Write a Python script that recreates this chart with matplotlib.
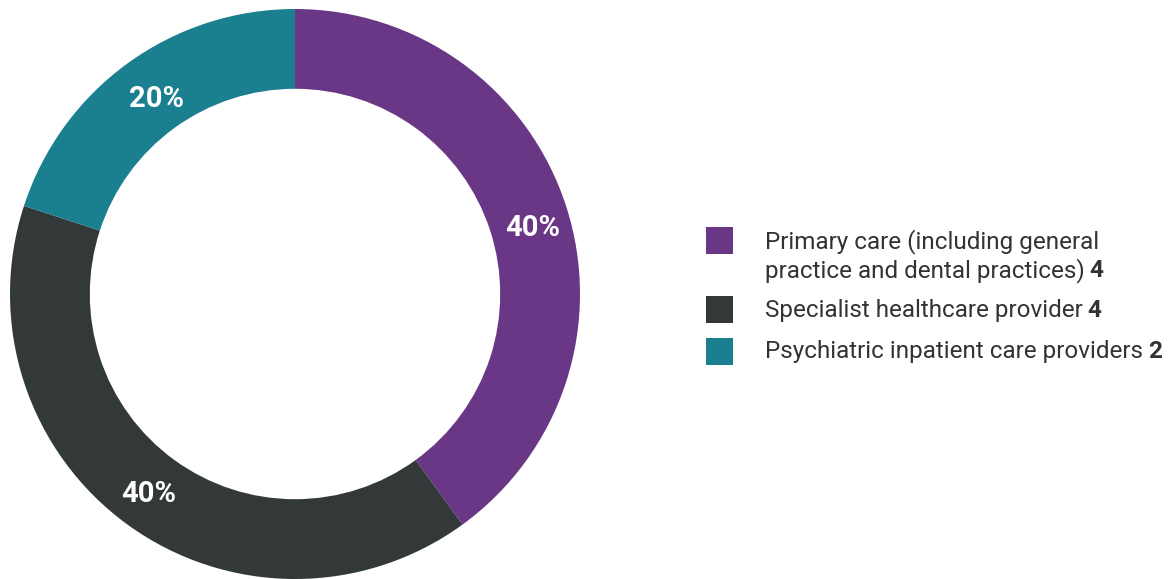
import numpy as np
import matplotlib.pyplot as plt
from matplotlib.patches import Rectangle

plt.rcParams['font.family'] = ['Roboto', 'DejaVu Sans']

categories = [['Primary care (including general', 'practice and dental practices)'],
              ['Specialist healthcare provider'],
              ['Psychiatric inpatient care providers']]
counts = [4, 4, 2]
colors = ['#693785', '#333838', '#1a7f8e']

fig = plt.figure(figsize=(11.69, 5.79), dpi=100)
W, H = 1169, 579

# donut, centre ~(295, 294) px, outer radius ~285 px
ax = fig.add_axes([10 / W, 0, 570 / W, 570 / H])
wedges, texts, autotexts = ax.pie(
    counts, colors=colors, startangle=90, counterclock=False,
    radius=1, wedgeprops=dict(width=0.28, edgecolor='none'),
    autopct='%1.0f%%', pctdistance=0.86,
    textprops=dict(color='white', fontsize=21, fontweight='bold'))
# nudge labels to where they sit in the original
for txt, ang, r in zip(autotexts, [15.5, 233.7, 125.3], [0.865, 0.87, 0.84]):
    a = np.deg2rad(ang)
    txt.set_position((r * np.cos(a), r * np.sin(a)))
ax.set_xlim(-1, 1)
ax.set_ylim(-1, 1)
ax.set_aspect('equal')
ax.axis('off')

# legend drawn by hand
box_x = 706
text_x = 765
box_tops = [227, 296, 338]
baselines = [[248, 277], [317], [358]]
renderer = fig.canvas.get_renderer()
fs = 17.5
for i, (lines, n, col) in enumerate(zip(categories, counts, colors)):
    fig.patches.append(Rectangle((box_x / W, 1 - (box_tops[i] + 27) / H), 27 / W, 27 / H,
                                 transform=fig.transFigure, facecolor=col, edgecolor='none'))
    for line, yb in zip(lines, baselines[i]):
        t = fig.text(text_x / W, 1 - yb / H, line, fontsize=fs, color='#333333',
                     va='baseline', ha='left')
    bb = t.get_window_extent(renderer)
    # bold count after the last line
    fig.text((bb.x1 + 5) / W, 1 - baselines[i][-1] / H, str(n), fontsize=fs, color='#333333',
             fontweight='bold', va='baseline', ha='left')

fig.savefig('out.png', dpi=100)
